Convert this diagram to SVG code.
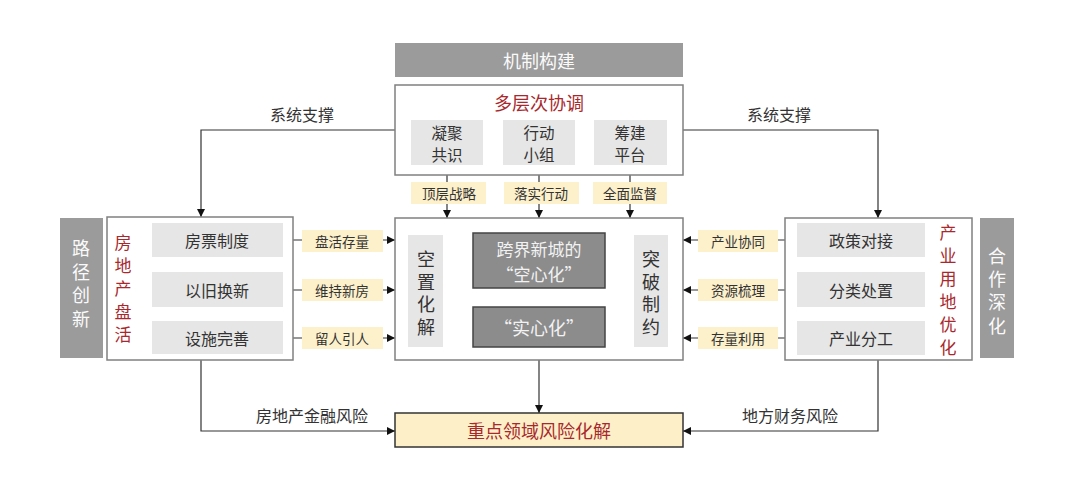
<svg xmlns="http://www.w3.org/2000/svg" width="1080" height="491" viewBox="0 0 1080 491">
<defs>
<marker id="ah" viewBox="0 0 10 10" refX="10" refY="5" markerWidth="8" markerHeight="8" markerUnits="userSpaceOnUse" orient="auto">
<path d="M0,0 L10,5 L0,10 z" fill="#111"/>
</marker>
<style>
text{font-family:"Noto Sans CJK SC","Noto Sans",sans-serif;text-anchor:middle;dominant-baseline:central;fill:#333}
.vt{writing-mode:vertical-rl}
.ban{fill:#9b9b9b}
.bant{fill:#fafafa;font-size:18px}
.frame{fill:#fff;stroke:#808080;stroke-width:1.5}
.sub{fill:#e6e6e6}
.subt{font-size:16px}
.subt2{font-size:15.5px}
.lab{fill:#fdf1cc}
.labt{font-size:13.5px}
.red{fill:#a8292d}
.dark{fill:#8c8c8c;stroke:#444;stroke-width:1.5}
.darkt{fill:#f2f2f2;font-size:18px}
.ln{fill:none;stroke:#333;stroke-width:1.2}
.arr{marker-end:url(#ah)}
.side{font-size:16px}
</style>
</defs>
<rect width="1080" height="491" fill="#fff"/>

<g id="connectors">
<path class="ln arr" d="M395,130 H201 V217"/>
<path class="ln arr" d="M683,130 H878 V218"/>
<path class="ln arr" d="M447,165 V218"/>
<path class="ln arr" d="M539,165 V218"/>
<path class="ln arr" d="M630,165 V218"/>
<path class="ln arr" d="M283,240 H395"/>
<path class="ln arr" d="M283,290 H395"/>
<path class="ln arr" d="M283,338 H395"/>
<path class="ln arr" d="M797,240 H683"/>
<path class="ln arr" d="M797,290 H683"/>
<path class="ln arr" d="M797,338 H683"/>
<path class="ln arr" d="M443,253 H473"/>
<path class="ln arr" d="M633,253 H605"/>
<path class="ln arr" d="M539,288 V307"/>
<path class="ln arr" d="M539,347 V413"/>
<path class="ln arr" d="M201,360 V431 H395"/>
<path class="ln arr" d="M878,360 V431 H683"/>
<text x="302" y="114" class="side">系统支撑</text>
<text x="779" y="114" class="side">系统支撑</text>
<text x="312" y="415" class="side">房地产金融风险</text>
<text x="790" y="415" class="side">地方财务风险</text>
</g>

<g id="banner">
<rect x="395" y="43" width="288" height="34" class="ban"/>
<text x="539" y="60" class="bant">机制构建</text>
</g>

<g id="multi">
<rect x="395" y="85" width="288" height="90" class="frame"/>
<text x="539" y="102" class="red" style="font-size:18px">多层次协调</text>
</g>
<g id="n-gongshi">
<rect x="411" y="120" width="72" height="45" class="sub"/>
<text x="447" y="131.5" class="subt2">凝聚</text>
<text x="447" y="154" class="subt2">共识</text>
</g>
<g id="n-xiaozu">
<rect x="503" y="120" width="72" height="45" class="sub"/>
<text x="539" y="131.5" class="subt2">行动</text>
<text x="539" y="154" class="subt2">小组</text>
</g>
<g id="n-pingtai">
<rect x="594" y="120" width="73" height="45" class="sub"/>
<text x="630" y="131.5" class="subt2">筹建</text>
<text x="630" y="154" class="subt2">平台</text>
</g>

<g id="l-top1"><rect x="411" y="182" width="75" height="22" class="lab"/><text x="449" y="193" class="labt">顶层战略</text></g>
<g id="l-top2"><rect x="504" y="182" width="75" height="22" class="lab"/><text x="541" y="193" class="labt">落实行动</text></g>
<g id="l-top3"><rect x="593" y="182" width="74" height="22" class="lab"/><text x="630" y="193" class="labt">全面监督</text></g>

<g id="center">
<rect x="395" y="218" width="288" height="142" class="frame"/>
</g>
<g id="n-kongzhi">
<rect x="408" y="235" width="35" height="112" class="sub"/>
<text x="426" y="295.5" class="vt" style="font-size:18px;letter-spacing:4.7px">空置化解</text>
</g>
<g id="n-tupo">
<rect x="634" y="235" width="34" height="112" class="sub"/>
<text x="651" y="295.5" class="vt" style="font-size:18px;letter-spacing:4.7px">突破制约</text>
</g>
<g id="n-kongxin">
<rect x="473" y="233" width="132" height="55" class="dark"/>
<text x="539" y="248" class="darkt" style="font-size:17px">跨界新城的</text>
<text x="539" y="273" class="darkt" style="font-size:17px">“空心化”</text>
</g>
<g id="n-shixin">
<rect x="473" y="307" width="132" height="40" class="dark"/>
<text x="539" y="327" class="darkt">“实心化”</text>
</g>

<g id="left-side">
<rect x="60" y="218" width="43" height="140" class="ban"/>
<text x="81" y="286.5" class="bant vt" style="letter-spacing:5.7px">路径创新</text>
</g>
<g id="left-panel">
<rect x="107" y="217" width="186" height="143" class="frame"/>
<text x="123" y="292" class="red vt" style="font-size:17px;letter-spacing:6px">房地产盘活</text>
</g>
<g id="n-fangpiao"><rect x="152" y="223" width="131" height="34" class="sub"/><text x="217" y="240" class="subt">房票制度</text></g>
<g id="n-yijiu"><rect x="152" y="272" width="131" height="35" class="sub"/><text x="217" y="290" class="subt">以旧换新</text></g>
<g id="n-sheshi"><rect x="152" y="321" width="131" height="33" class="sub"/><text x="217" y="338" class="subt">设施完善</text></g>
<g id="l-left1"><rect x="302" y="230" width="81" height="22" class="lab"/><text x="342" y="241" class="labt">盘活存量</text></g>
<g id="l-left2"><rect x="302" y="279" width="81" height="22" class="lab"/><text x="342" y="290" class="labt">维持新房</text></g>
<g id="l-left3"><rect x="302" y="327" width="81" height="22" class="lab"/><text x="342" y="338" class="labt">留人引人</text></g>

<g id="right-panel">
<rect x="785" y="218" width="187" height="142" class="frame"/>
<text x="948" y="293.5" class="red vt" style="font-size:17px;letter-spacing:6px">产业用地优化</text>
</g>
<g id="right-side">
<rect x="980" y="218" width="34" height="140" class="ban"/>
<text x="997" y="293.5" class="bant vt" style="letter-spacing:5.3px">合作深化</text>
</g>
<g id="n-zhengce"><rect x="797" y="223" width="128" height="34" class="sub"/><text x="861" y="240" class="subt">政策对接</text></g>
<g id="n-fenlei"><rect x="797" y="272" width="128" height="35" class="sub"/><text x="861" y="290" class="subt">分类处置</text></g>
<g id="n-fengong"><rect x="797" y="321" width="128" height="34" class="sub"/><text x="861" y="338" class="subt">产业分工</text></g>
<g id="l-right1"><rect x="698" y="230" width="80" height="22" class="lab"/><text x="738" y="241" class="labt">产业协同</text></g>
<g id="l-right2"><rect x="698" y="279" width="80" height="22" class="lab"/><text x="738" y="290" class="labt">资源梳理</text></g>
<g id="l-right3"><rect x="698" y="327" width="80" height="22" class="lab"/><text x="738" y="338" class="labt">存量利用</text></g>

<g id="n-risk">
<rect x="395" y="413" width="288" height="34" fill="#fdf0c9" stroke="#333" stroke-width="1.5"/>
<text x="539" y="430" class="red" style="font-size:18px">重点领域风险化解</text>
</g>
</svg>
